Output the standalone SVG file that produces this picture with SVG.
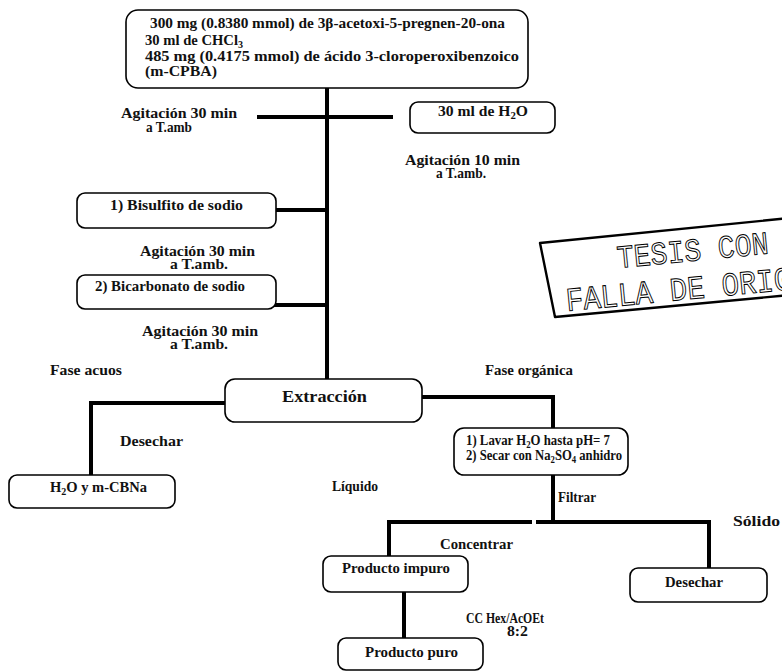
<svg xmlns="http://www.w3.org/2000/svg" width="782" height="672" viewBox="0 0 782 672">
  <style>
    .box { fill: #ffffff; stroke: #000000; stroke-width: 1.6; }
    .wire { fill: none; stroke: #000000; stroke-width: 4; stroke-linecap: square; }
    .t { font-family: "Liberation Serif", "Times New Roman", serif; font-weight: bold; font-size: 14.5px; fill: #111111; }
    .big { font-size: 17.5px; }
    .stamp { font-family: "Liberation Mono", "Courier New", monospace; fill: #ffffff; stroke: #000000; stroke-width: 1; }
  </style>

  <rect width="782" height="672" fill="#ffffff"/>

  <!-- connectors -->
  <g id="connectors">
    <line class="wire" x1="327" y1="88" x2="327" y2="380"/>
    <line class="wire" x1="259" y1="117" x2="391" y2="117"/>
    <line class="wire" x1="276" y1="210" x2="327" y2="210"/>
    <line class="wire" x1="276" y1="305" x2="327" y2="305"/>
    <polyline class="wire" points="225,403 91,403 91,475"/>
    <polyline class="wire" points="422,397 553,397 553,428"/>
    <line class="wire" x1="553" y1="475" x2="553" y2="522"/>
    <polyline class="wire" points="389,556 389,522 530,522"/>
    <polyline class="wire" points="538,522 709,522 709,568"/>
    <line class="wire" x1="404" y1="592" x2="404" y2="638"/>
  </g>

  <!-- starting material -->
  <g id="n-start">
    <rect class="box" x="126" y="10" width="402" height="78" rx="12"/>
    <text class="t" x="150" y="28" textLength="355" lengthAdjust="spacingAndGlyphs">300 mg  (0.8380 mmol) de 3β-acetoxi-5-pregnen-20-ona</text>
    <text class="t" x="145" y="45" textLength="98" lengthAdjust="spacingAndGlyphs">30 ml de CHCl<tspan dy="3" font-size="10">3</tspan></text>
    <text class="t" x="145" y="61" textLength="374" lengthAdjust="spacingAndGlyphs">485 mg (0.4175 mmol) de ácido 3-cloroperoxibenzoico</text>
    <text class="t" x="145" y="76" textLength="72" lengthAdjust="spacingAndGlyphs">(m-CPBA)</text>
  </g>

  <g id="n-water">
    <rect class="box" x="410" y="102" width="145" height="31" rx="8"/>
    <text class="t" x="438" y="116" textLength="90" lengthAdjust="spacingAndGlyphs">30 ml de H<tspan dy="3" font-size="10">2</tspan><tspan dy="-3">O</tspan></text>
  </g>

  <g id="n-bisulfito">
    <rect class="box" x="77" y="193" width="199" height="35" rx="8"/>
    <text class="t" x="110" y="210" textLength="133" lengthAdjust="spacingAndGlyphs">1) Bisulfito de sodio</text>
  </g>

  <g id="n-bicarbonato">
    <rect class="box" x="77" y="275" width="199" height="34" rx="8"/>
    <text class="t" x="95" y="291" textLength="150" lengthAdjust="spacingAndGlyphs">2) Bicarbonato de sodio</text>
  </g>

  <g id="n-extraccion">
    <rect class="box" x="225" y="379" width="197" height="43" rx="10"/>
    <text class="t big" x="282" y="402" textLength="85" lengthAdjust="spacingAndGlyphs">Extracción</text>
  </g>

  <g id="n-acuosa">
    <rect class="box" x="9" y="475" width="166" height="33" rx="8"/>
    <text class="t" x="50" y="492" textLength="97" lengthAdjust="spacingAndGlyphs">H<tspan dy="3" font-size="10">2</tspan><tspan dy="-3">O y m-CBNa</tspan></text>
  </g>

  <g id="n-lavado">
    <rect class="box" x="454" y="428" width="174" height="47" rx="10"/>
    <text class="t" x="466" y="445" textLength="144" lengthAdjust="spacingAndGlyphs">1) Lavar  H<tspan dy="3" font-size="10">2</tspan><tspan dy="-3">O hasta pH= 7</tspan></text>
    <text class="t" x="466" y="460" textLength="156" lengthAdjust="spacingAndGlyphs">2) Secar con Na<tspan dy="3" font-size="10">2</tspan><tspan dy="-3">SO</tspan><tspan dy="3" font-size="10">4</tspan><tspan dy="-3"> anhidro</tspan></text>
  </g>

  <g id="n-impuro">
    <rect class="box" x="323" y="556" width="145" height="36" rx="8"/>
    <text class="t" x="342" y="573" textLength="108" lengthAdjust="spacingAndGlyphs">Producto impuro</text>
  </g>

  <g id="n-desechar">
    <rect class="box" x="630" y="568" width="137" height="34" rx="8"/>
    <text class="t" x="665" y="587" textLength="58" lengthAdjust="spacingAndGlyphs">Desechar</text>
  </g>

  <g id="n-puro">
    <rect class="box" x="338" y="638" width="145" height="32" rx="8"/>
    <text class="t" x="365" y="657" textLength="93" lengthAdjust="spacingAndGlyphs">Producto puro</text>
  </g>

  <!-- step labels -->
  <g id="labels">
    <text class="t" x="121" y="118" textLength="116" lengthAdjust="spacingAndGlyphs">Agitación 30 min</text>
    <text class="t" x="146" y="132" textLength="46" lengthAdjust="spacingAndGlyphs">a T.amb</text>
    <text class="t" x="405" y="165" textLength="115" lengthAdjust="spacingAndGlyphs">Agitación 10 min</text>
    <text class="t" x="436" y="178" textLength="50" lengthAdjust="spacingAndGlyphs">a T.amb.</text>
    <text class="t" x="140" y="256" textLength="115" lengthAdjust="spacingAndGlyphs">Agitación 30 min</text>
    <text class="t" x="170" y="269" textLength="58" lengthAdjust="spacingAndGlyphs">a T.amb.</text>
    <text class="t" x="142" y="336" textLength="116" lengthAdjust="spacingAndGlyphs">Agitación 30 min</text>
    <text class="t" x="170" y="349" textLength="58" lengthAdjust="spacingAndGlyphs">a T.amb.</text>
    <text class="t" x="50" y="375" textLength="72" lengthAdjust="spacingAndGlyphs">Fase acuos</text>
    <text class="t" x="485" y="375" textLength="88" lengthAdjust="spacingAndGlyphs">Fase orgánica</text>
    <text class="t" x="120" y="446" textLength="63" lengthAdjust="spacingAndGlyphs">Desechar</text>
    <text class="t" x="332" y="491" textLength="46" lengthAdjust="spacingAndGlyphs">Líquido</text>
    <text class="t" x="558" y="502" textLength="38" lengthAdjust="spacingAndGlyphs">Filtrar</text>
    <text class="t" x="733" y="526" textLength="47" lengthAdjust="spacingAndGlyphs">Sólido</text>
    <text class="t" x="440" y="549" textLength="73" lengthAdjust="spacingAndGlyphs">Concentrar</text>
    <text class="t" x="466" y="623" textLength="78" lengthAdjust="spacingAndGlyphs">CC Hex/AcOEt</text>
    <text class="t" x="507" y="636" textLength="21" lengthAdjust="spacingAndGlyphs">8:2</text>
  </g>

  <!-- rubber stamp -->
  <g id="stamp">
    <polyline points="790,218 540,243 555,317 790,295" fill="none" stroke="#000000" stroke-width="2.4" stroke-linejoin="round"/>
    <text class="stamp" transform="translate(618 268) rotate(-5.5)" font-size="32" textLength="152" lengthAdjust="spacingAndGlyphs">TESIS CON</text>
    <text class="stamp" transform="translate(567 311) rotate(-5.5)" font-size="33" textLength="226" lengthAdjust="spacingAndGlyphs">FALLA DE ORIG</text>
  </g>
</svg>
